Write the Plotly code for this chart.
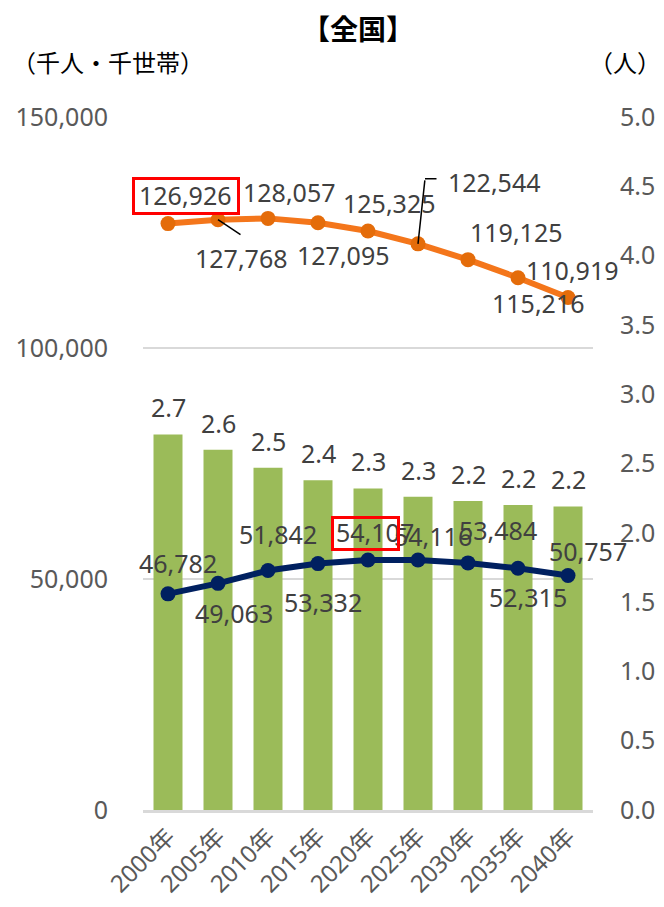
import plotly.graph_objects as go

# ----------------------------------- Data -----------------------------------
years = ["2000年", "2005年", "2010年", "2015年", "2020年", "2025年", "2030年", "2035年", "2040年"]
population = [126926, 127768, 128057, 127095, 125325, 122544, 119125, 115216, 110919]   # 千人
households = [46782, 49063, 51842, 53332, 54107, 54116, 53484, 52315, 50757]            # 千世帯
persons_per_household = [2.71, 2.60, 2.47, 2.38, 2.32, 2.26, 2.23, 2.20, 2.19]           # 人

left_ticks = [0, 50000, 100000, 150000]
right_ticks = [0.0, 0.5, 1.0, 1.5, 2.0, 2.5, 3.0, 3.5, 4.0, 4.5, 5.0]

# label offsets in pixels (dx right, dy down) relative to each point
pop_offsets = [(17, -29), (23, 38), (21, -26), (25, 32), (21, -28), (76, -62), (48, -28), (20, 25), (4, -28)]
hh_offsets = [(10, -31), (16, 30), (10, -36), (5, 38), (7, -28), (15, -24), (30, -33), (10, 29), (20, -25)]

FONT = "Noto Sans, Noto Sans CJK JP, sans-serif"
LABEL_COLOR = "#404040"
TICK_COLOR = "#595959"

# page has an 8px body margin, so the figure is a bit smaller than the window
W, H = 656, 899
L, T, PW, PH = 135, 109, 450, 693


def paper(px, py):
    # page pixel -> paper coords
    return (px - 8 - L) / PW, 1 - (py - 8 - T) / PH


# ----------------------------------- Plot -----------------------------------
fig = go.Figure()

fig.add_trace(go.Bar(
    x=years, y=persons_per_household, yaxis="y",
    marker=dict(color="#9BBB59", line=dict(width=0)),
    width=0.58, name="1世帯あたり人員"
))

fig.add_trace(go.Scatter(
    x=years, y=population, yaxis="y2", mode="lines+markers",
    line=dict(color="#F4761B", width=6),
    marker=dict(color="#E46C0A", size=15),
    name="人口"
))

fig.add_trace(go.Scatter(
    x=years, y=households, yaxis="y2", mode="lines+markers",
    line=dict(color="#002060", width=6),
    marker=dict(color="#002060", size=15),
    name="世帯数"
))

annotations = []

# data labels for the lines
for series, offsets in ((population, pop_offsets), (households, hh_offsets)):
    for x, v, (dx, dy) in zip(years, series, offsets):
        annotations.append(dict(
            x=x, y=v, xref="x", yref="y2", text=f"{v:,}", showarrow=False,
            xshift=dx, yshift=-dy,
            font=dict(family=FONT, size=25, color=LABEL_COLOR)
        ))

# data labels for the bars
for x, v in zip(years, persons_per_household):
    annotations.append(dict(
        x=x, y=v, xref="x", yref="y", text=f"{v:.1f}", showarrow=False,
        yshift=27, font=dict(family=FONT, size=25, color=LABEL_COLOR)
    ))

# leader lines
annotations.append(dict(x=years[1], y=population[1], xref="x", yref="y2", text="",
                        showarrow=True, arrowhead=0, arrowwidth=1.5, arrowcolor="black",
                        ax=24, ay=16))
annotations.append(dict(x=years[5], y=population[5], xref="x", yref="y2", text="",
                        showarrow=True, arrowhead=0, arrowwidth=1.5, arrowcolor="black",
                        ax=7, ay=-65))
annotations.append(dict(x=years[5], y=population[5], xref="x", yref="y2", text="",
                        showarrow=True, arrowhead=0, arrowwidth=1.5, arrowcolor="black",
                        ax=13, ay=0, xshift=7, yshift=65))

# red highlight boxes
annotations.append(dict(x=years[0], y=population[0], xref="x", yref="y2", text=" ",
                        showarrow=False, width=102, height=32, borderpad=0,
                        bordercolor="#FF0000", borderwidth=3, xshift=18, yshift=28))
annotations.append(dict(x=years[4], y=households[4], xref="x", yref="y2", text=" ",
                        showarrow=False, width=63, height=29, borderpad=0,
                        bordercolor="#FF0000", borderwidth=3, xshift=-3, yshift=27))

# title / unit labels
tx, ty = paper(358, 29)
annotations.append(dict(x=tx, y=ty, xref="paper", yref="paper", text="<b>【全国】</b>",
                        showarrow=False, yanchor="middle",
                        font=dict(family=FONT, size=28, color="black")))
ux, uy = paper(10, 63)
annotations.append(dict(x=ux, y=uy, xref="paper", yref="paper", text="（千人・千世帯）",
                        showarrow=False, xanchor="left", yanchor="middle",
                        font=dict(family=FONT, size=24, color="black")))
rx, ry = paper(663, 63)
annotations.append(dict(x=rx, y=ry, xref="paper", yref="paper", text="（人）",
                        showarrow=False, xanchor="right", yanchor="middle",
                        font=dict(family=FONT, size=24, color="black")))

fig.update_layout(
    width=W, height=H,
    margin=dict(l=L, r=W - L - PW, t=T, b=H - T - PH, autoexpand=False),
    paper_bgcolor="white", plot_bgcolor="white",
    showlegend=False,
    xaxis=dict(
        range=[-0.5, len(years) - 0.5], autorange=False,
        tickangle=-45, tickfont=dict(family=FONT, size=24, color=TICK_COLOR),
        showline=True, linecolor="#D9D9D9", linewidth=3, showgrid=False, ticks=""
    ),
    yaxis=dict(
        range=[0, 5], autorange=False, tickvals=right_ticks, tickformat=".1f", side="right",
        tickfont=dict(family=FONT, size=25, color=TICK_COLOR),
        showgrid=False, zeroline=False, showline=False, ticks="", ticklabelstandoff=26
    ),
    yaxis2=dict(
        range=[0, 150000], autorange=False, tickvals=left_ticks, tickformat=",",
        overlaying="y", side="left",
        tickfont=dict(family=FONT, size=25, color=TICK_COLOR),
        showgrid=True, gridcolor="#D9D9D9", gridwidth=1.5, zeroline=False,
        showline=False, ticks="", ticklabelstandoff=34
    ),
    annotations=annotations,
)

fig.write_html("out.html")
